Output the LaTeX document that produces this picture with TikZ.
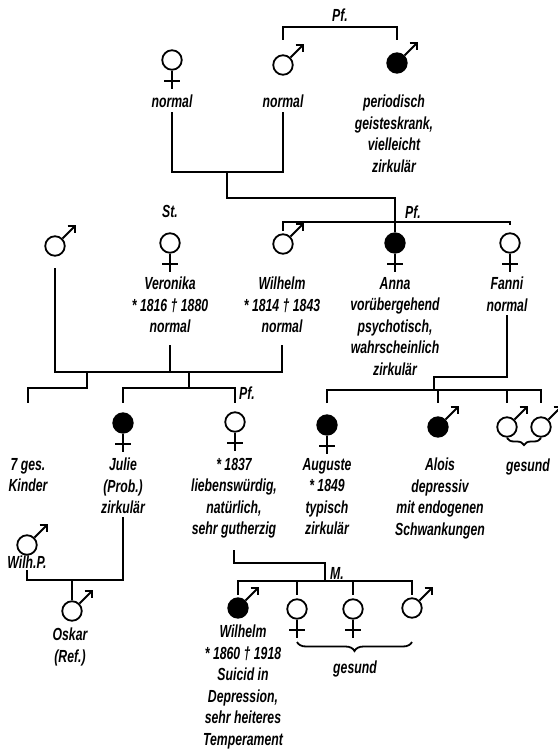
\documentclass[tikz,border=0pt]{standalone}
\usepackage{fontspec}
\setmainfont{Liberation Sans}[FakeStretch=0.7]
\usetikzlibrary{arrows.meta,decorations.pathreplacing}

\begin{document}
\begin{tikzpicture}[x=1pt,y=1pt,
  symline/.style={line width=1.8pt},
  lin/.style={line width=1.8pt},
  sym/.style={circle,draw,line width=1.8pt,minimum size=19.5pt,inner sep=0pt},
  fem/.style={sym,append after command={
    (\tikzlastnode.south) edge[symline] ++(0,-18pt)
    ([shift={(-8pt,-10.5pt)}]\tikzlastnode.south) edge[symline] ++(16pt,0pt)}},
  mal/.style={sym,append after command={
    (\tikzlastnode.45) edge[symline,-{Straight Barb[length=5pt,width=10pt]}] ++(13pt,13pt)}},
  ill/.style={fill=black},
  txt/.style={anchor=north,align=center,inner sep=0pt,
    font=\fontsize{17.5}{21.5}\selectfont\bfseries\itshape},
  tag/.style={inner sep=0pt,font=\fontsize{17.5}{21.5}\selectfont\bfseries\itshape}]

  \useasboundingbox (0,0) rectangle (557,-752);

  \node[fem] (f0) at (172,-60) {};
  \node[mal] (m0) at (283,-65) {};
  \node[mal,ill] (m1) at (397,-63) {};
  \node[txt] (nf0) at (172,-95) {normal};
  \node[txt] (nm0) at (283,-95) {normal};
  \node[txt] (nm1) at (394,-95) {periodisch\\geisteskrank,\\vielleicht\\zirkulär};

  \node[mal] (lm) at (55,-246) {};
  \node[fem] (ver) at (170,-243) {};
  \node[mal] (wil) at (283,-244) {};
  \node[fem,ill] (ann) at (395,-243) {};
  \node[fem] (fan) at (510,-243) {};
  \node[tag] (st) at (170,-211) {St.};
  \node[tag] (pf1) at (413,-212) {Pf.};
  \node[txt] (nver) at (170,-277) {Veronika\\* 1816 † 1880\\normal};
  \node[txt] (nwil) at (282,-277) {Wilhelm\\* 1814 † 1843\\normal};
  \node[txt] (nann) at (395,-277) {Anna\\vorübergehend\\psychotisch,\\wahrscheinlich\\zirkulär};
  \node[txt] (nfan) at (507,-277) {Fanni\\normal};

  \node[fem,ill] (jul) at (123,-423) {};
  \node[fem] (w37) at (235,-422) {};
  \node[fem,ill] (aug) at (327,-425) {};
  \node[mal,ill] (alo) at (438,-427) {};
  \node[mal] (g1) at (507,-427) {};
  \node[mal] (g2) at (541,-427) {};
  \node[tag] (pf2) at (247,-393) {Pf.};
  \node[txt] (n7) at (28,-458) {7 ges.\\Kinder};
  \node[txt] (njul) at (123,-458) {Julie\\(Prob.)\\zirkulär};
  \node[txt] (n37) at (234,-458) {* 1837\\liebenswürdig,\\natürlich,\\sehr gutherzig};
  \node[txt] (naug) at (327,-458) {Auguste\\* 1849\\typisch\\zirkulär};
  \node[txt] (nalo) at (440,-458) {Alois\\depressiv\\mit endogenen\\Schwankungen};
  \node[tag] (ges1) at (528,-467) {gesund};

  \node[mal] (wp) at (27,-545) {};
  \node[txt] (nwp) at (27,-556) {Wilh.P.};
  \node[mal] (osk) at (72,-611) {};
  \node[txt] (nosk) at (70,-628) {Oskar\\(Ref.)};
  \node[mal,ill] (wi2) at (238,-608) {};
  \node[fem] (fa) at (297,-609) {};
  \node[fem] (fb) at (353,-609) {};
  \node[mal] (mb) at (412,-608) {};
  \node[tag] (m) at (337,-573) {M.};
  \node[txt] (nwi2) at (243,-625) {Wilhelm\\* 1860 † 1918\\Suicid in\\Depression,\\sehr heiteres\\Temperament};
  \node[tag] (ges2) at (355,-669) {gesund};

  \coordinate (j0) at (227,-172);
  \coordinate (j1) at (87,-372);
  \coordinate (j2) at (189,-372);
  \coordinate (j3) at (434,-390);
  \coordinate (j4) at (72,-580);
  \coordinate (j5) at (325,-563);

  \draw[lin] (m0 |- 0,-40) -- ++(0,13pt) -| node[tag,pos=0.25,above=5pt] (pf0) {Pf.} (m1 |- 0,-40);
  \draw[lin] (nf0 |- 0,-112) |- (j0) -| (nm0 |- 0,-112);
  \draw[lin] (j0) -- ++(0,-26pt) -| (ann.north);
  \draw[lin] (wil |- 0,-231) -- (wil |- 0,-222) -| (fan |- 0,-225);

  \draw[lin] (lm |- 0,-268) |- (nwil |- 0,-372) -- (nwil |- 0,-345);
  \draw[lin] (nver |- 0,-345) -- (nver |- 0,-372);
  \draw[lin] (j1) -- ++(0,-16pt) -| (n7 |- 0,-403);
  \draw[lin] (j2) -- ++(0,-16pt) -| (jul |- 0,-403);
  \draw[lin] (j2) ++(0,-16pt) -| (w37 |- 0,-403);

  \draw[lin] (nfan |- 0,-315) |- (j3 |- 0,-377) -- (j3);
  \draw[lin] (aug |- 0,-403) |- (j3) -| (g2 |- 0,-403);
  \draw[lin] (alo |- j3) -- (alo |- 0,-403);
  \draw[lin] (g1 |- j3) -- (g1 |- 0,-403);
  \draw[lin,decorate,decoration={brace,mirror,amplitude=7pt}] (g1 |- 0,-438) -- (g2 |- 0,-438);

  \draw[lin] (njul |- 0,-517) |- (j4) -| (nwp |- 0,-570);
  \draw[lin] (j4) -- (osk.north);

  \draw[lin] (n37 |- 0,-550) |- (j5) -- (j5 |- 0,-581);
  \draw[lin] (wi2 |- 0,-595) |- (j5 |- 0,-581) -| (mb |- 0,-595);
  \draw[lin] (fa |- 0,-581) -- (fa |- 0,-595);
  \draw[lin] (fb |- 0,-581) -- (fb |- 0,-595);
  \draw[lin,decorate,decoration={brace,mirror,amplitude=9pt}] (fa |- 0,-642) -- (mb |- 0,-642);
\end{tikzpicture}
\end{document}
